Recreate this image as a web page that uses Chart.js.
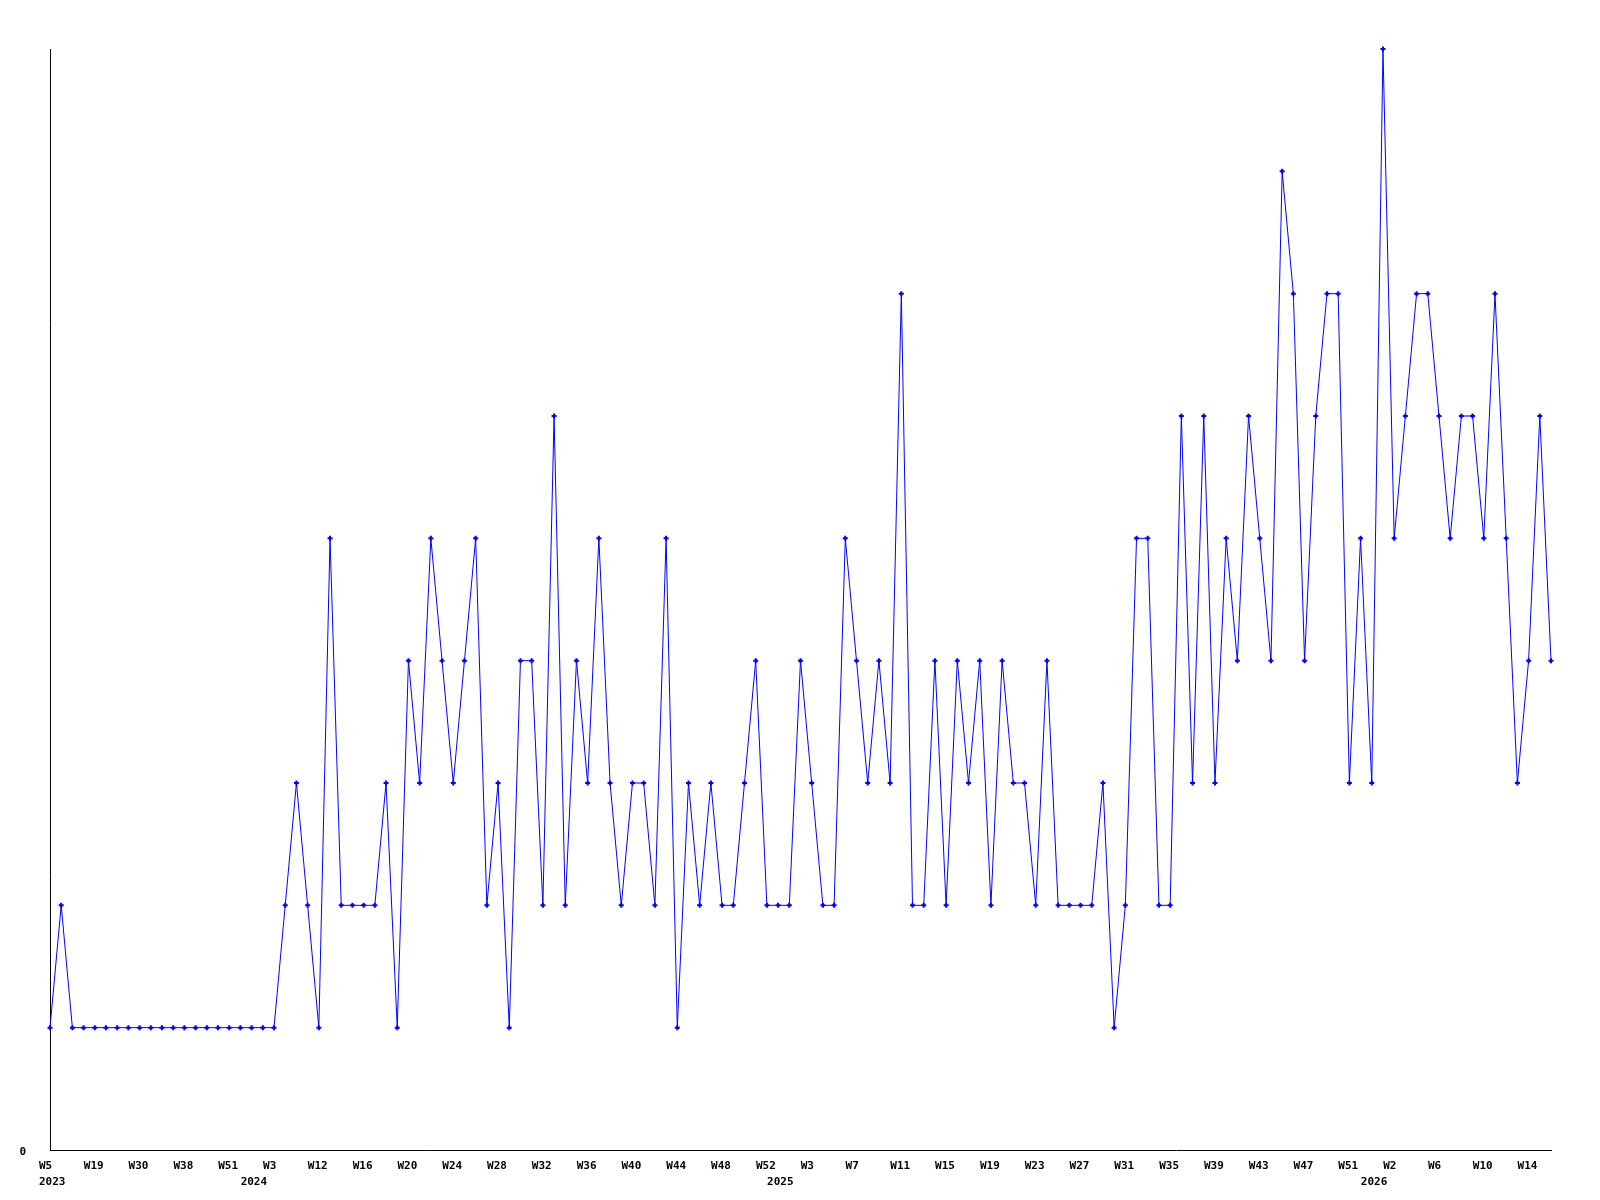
<!DOCTYPE html>
<html>
<head>
<meta charset="utf-8">
<title>Weekly count</title>
<script src="https://cdn.jsdelivr.net/npm/chart.js@4.4.1/dist/chart.umd.min.js"></script>
<style>
  html, body { margin: 0; padding: 0; background: #ffffff; }
  #chart { display: block; }
</style>
</head>
<body>
<canvas id="chart" width="1600" height="1200"></canvas>
<script>
// Weekly series, 2023 W5 .. 2026 W16 (weeks without data are skipped early on)
var weekLabels = [
  '2023-W5', '2023-W8', '2023-W12', '2023-W16', '2023-W19', '2023-W21', '2023-W24', '2023-W27',
  '2023-W30', '2023-W32', '2023-W34', '2023-W36', '2023-W38', '2023-W41', '2023-W45', '2023-W48',
  '2023-W51', '2023-W52',
  '2024-W1', '2024-W2', '2024-W3', '2024-W6', '2024-W8', '2024-W10', '2024-W12', '2024-W13',
  '2024-W14', '2024-W15', '2024-W16', '2024-W17', '2024-W18', '2024-W19', '2024-W20', '2024-W21',
  '2024-W22', '2024-W23', '2024-W24', '2024-W25', '2024-W26', '2024-W27', '2024-W28', '2024-W29',
  '2024-W30', '2024-W31', '2024-W32', '2024-W33', '2024-W34', '2024-W35', '2024-W36', '2024-W37',
  '2024-W38', '2024-W39', '2024-W40', '2024-W41', '2024-W42', '2024-W43', '2024-W44', '2024-W45',
  '2024-W46', '2024-W47', '2024-W48', '2024-W49', '2024-W50', '2024-W51', '2024-W52',
  '2025-W0', '2025-W1', '2025-W2', '2025-W3', '2025-W4', '2025-W5', '2025-W6', '2025-W7',
  '2025-W8', '2025-W9', '2025-W10', '2025-W11', '2025-W12', '2025-W13', '2025-W14', '2025-W15',
  '2025-W16', '2025-W17', '2025-W18', '2025-W19', '2025-W20', '2025-W21', '2025-W22', '2025-W23',
  '2025-W24', '2025-W25', '2025-W26', '2025-W27', '2025-W28', '2025-W29', '2025-W30', '2025-W31',
  '2025-W32', '2025-W33', '2025-W34', '2025-W35', '2025-W36', '2025-W37', '2025-W38', '2025-W39',
  '2025-W40', '2025-W41', '2025-W42', '2025-W43', '2025-W44', '2025-W45', '2025-W46', '2025-W47',
  '2025-W48', '2025-W49', '2025-W50', '2025-W51', '2025-W52',
  '2026-W0', '2026-W1', '2026-W2', '2026-W3', '2026-W4', '2026-W5', '2026-W6', '2026-W7',
  '2026-W8', '2026-W9', '2026-W10', '2026-W11', '2026-W12', '2026-W13', '2026-W14', '2026-W15',
  '2026-W16'
];

var counts = [
  1, 2, 1, 1, 1, 1, 1, 1, 1, 1, 1, 1, 1, 1, 1, 1, 1, 1, 1, 1, 1,
  2, 3, 2, 1, 5, 2, 2, 2, 2, 3,
  1, 4, 3, 5, 4, 3, 4, 5, 2, 3,
  1, 4, 4, 2, 6, 2, 4, 3, 5, 3,
  2, 3, 3, 2, 5, 1, 3, 2, 3, 2,
  2, 3, 4, 2, 2, 2, 4, 3, 2, 2,
  5, 4, 3, 4, 3, 7, 2, 2, 4, 2,
  4, 3, 4, 2, 4, 3, 3, 2, 4, 2,
  2, 2, 2, 3, 1, 2, 5, 5, 2, 2,
  6, 3, 6, 3, 5, 4, 6, 5, 4, 8,
  7, 4, 6, 7, 7, 3, 5, 3, 9, 5,
  6, 7, 7, 6, 5, 6, 6, 5, 7, 5,
  3, 4, 6, 4
];

var yTickLabels = ['0'];
var labelEvery = 4;

// Draws the week / year labels under the axis and the single "0" on the y axis
var axisLabels = {
  id: 'axisLabels',
  afterDraw: function (chart) {
    var ctx = chart.ctx;
    var xs = chart.scales.x;
    var ys = chart.scales.y;
    ctx.save();
    ctx.font = 'bold 11px "DejaVu Sans Mono", monospace';
    ctx.fillStyle = '#000000';
    ctx.textAlign = 'left';
    ctx.textBaseline = 'alphabetic';
    var lastYear = null;
    weekLabels.forEach(function (lab, i) {
      var parts = lab.split('-');
      var x = xs.getPixelForValue(i);
      if (i % labelEvery === 0) {
        ctx.fillText(parts[1], x - 11, xs.bottom + 19);
      }
      if (parts[0] !== lastYear) {
        ctx.fillText(parts[0], x - 11, xs.bottom + 35);
        lastYear = parts[0];
      }
    });
    ctx.textAlign = 'right';
    ctx.textBaseline = 'middle';
    ctx.fillText(yTickLabels[0], ys.left - 24, ys.getPixelForValue(0) + 2);
    ctx.restore();
  }
};

new Chart(document.getElementById('chart'), {
  type: 'line',
  data: {
    labels: weekLabels,
    datasets: [{
      data: counts,
      borderColor: '#0000ff',
      backgroundColor: '#0000ff',
      borderWidth: 1,
      pointStyle: 'cross',
      pointRadius: 2.5,
      pointBorderWidth: 2,
      pointBorderColor: '#0000ff',
      tension: 0,
      fill: false,
      clip: false
    }]
  },
  options: {
    responsive: false,
    animation: false,
    layout: {
      padding: { left: 50, top: 49, right: 49, bottom: 50 }
    },
    plugins: {
      legend: { display: false },
      tooltip: { enabled: false }
    },
    scales: {
      x: {
        offset: false,
        grid: { display: false, drawTicks: false },
        border: { display: true, color: '#000000', width: 1 },
        ticks: { display: false }
      },
      y: {
        min: 0,
        max: 9,
        grid: { display: false, drawTicks: false },
        border: { display: true, color: '#000000', width: 1 },
        ticks: { display: false }
      }
    }
  },
  plugins: [axisLabels]
});
</script>
</body>
</html>
